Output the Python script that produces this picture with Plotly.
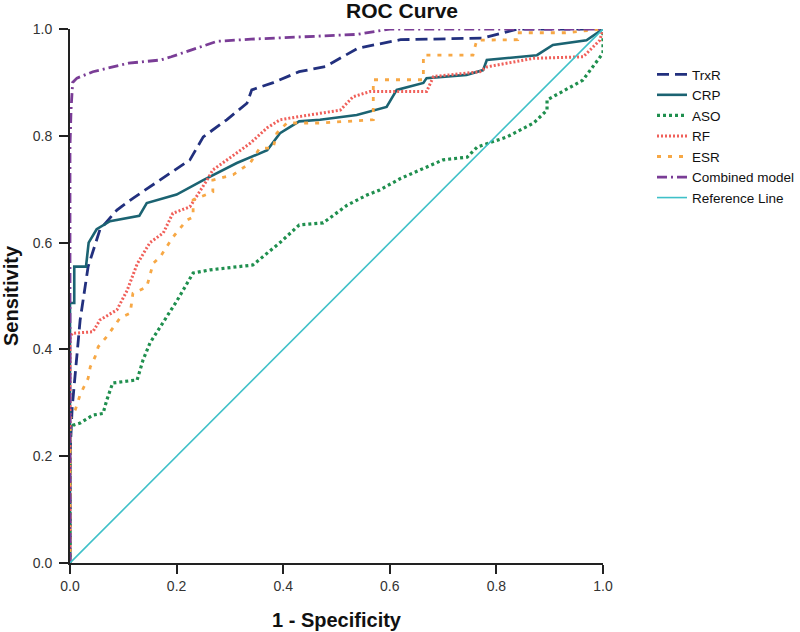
import plotly.graph_objects as go

# ---- data ----
trxr_x = [0, 0, 0.004, 0.019, 0.034, 0.056, 0.088, 0.118, 0.225, 0.25, 0.294, 0.332, 0.341, 0.38, 0.43, 0.48, 0.54, 0.62, 0.775, 0.84, 1.0]
trxr_y = [0, 0.2, 0.29, 0.455, 0.555, 0.624, 0.661, 0.683, 0.755, 0.798, 0.83, 0.861, 0.886, 0.899, 0.92, 0.93, 0.964, 0.98, 0.983, 1.0, 1.0]

crp_x = [0, 0, 0.003, 0.008, 0.008, 0.03, 0.035, 0.05, 0.075, 0.13, 0.144, 0.2, 0.25, 0.313, 0.37, 0.394, 0.43, 0.469, 0.538, 0.594, 0.613, 0.663, 0.669, 0.744, 0.775, 0.782, 0.876, 0.906, 0.969, 1.0]
crp_y = [0, 0.487, 0.487, 0.487, 0.555, 0.555, 0.6, 0.625, 0.64, 0.65, 0.674, 0.69, 0.717, 0.749, 0.773, 0.805, 0.827, 0.83, 0.839, 0.854, 0.886, 0.899, 0.908, 0.914, 0.923, 0.942, 0.951, 0.97, 0.979, 1.0]

aso_x = [0, 0, 0.006, 0.019, 0.043, 0.062, 0.069, 0.08, 0.126, 0.137, 0.15, 0.175, 0.2, 0.231, 0.263, 0.343, 0.37, 0.394, 0.43, 0.475, 0.52, 0.557, 0.58, 0.62, 0.7, 0.745, 0.764, 0.82, 0.87, 0.895, 0.895, 0.962, 1.0, 1.0]
aso_y = [0, 0.249, 0.258, 0.262, 0.277, 0.28, 0.305, 0.337, 0.343, 0.38, 0.412, 0.45, 0.49, 0.543, 0.549, 0.558, 0.58, 0.6, 0.633, 0.637, 0.67, 0.689, 0.698, 0.72, 0.755, 0.76, 0.779, 0.798, 0.824, 0.848, 0.867, 0.904, 0.955, 1.0]

rf_x = [0, 0, 0.004, 0.043, 0.056, 0.088, 0.107, 0.126, 0.15, 0.175, 0.193, 0.225, 0.257, 0.268, 0.32, 0.338, 0.37, 0.394, 0.43, 0.507, 0.531, 0.563, 0.669, 0.682, 0.769, 0.782, 0.869, 0.963, 0.994, 1.0]
rf_y = [0, 0.42, 0.43, 0.433, 0.455, 0.474, 0.51, 0.56, 0.6, 0.618, 0.655, 0.667, 0.717, 0.736, 0.773, 0.786, 0.815, 0.83, 0.836, 0.848, 0.873, 0.883, 0.883, 0.911, 0.92, 0.929, 0.945, 0.948, 0.979, 1.0]

esr_x = [0, 0, 0.01, 0.019, 0.034, 0.038, 0.047, 0.053, 0.069, 0.081, 0.094, 0.113, 0.118, 0.144, 0.156, 0.169, 0.193, 0.219, 0.231, 0.231, 0.268, 0.268, 0.306, 0.338, 0.356, 0.381, 0.388, 0.407, 0.469, 0.569, 0.569, 0.663, 0.663, 0.756, 0.763, 0.84, 0.84, 0.93, 1.0]
esr_y = [0, 0.27, 0.287, 0.315, 0.346, 0.367, 0.386, 0.405, 0.424, 0.44, 0.459, 0.468, 0.505, 0.517, 0.561, 0.573, 0.61, 0.642, 0.648, 0.68, 0.695, 0.717, 0.727, 0.749, 0.777, 0.777, 0.805, 0.824, 0.824, 0.83, 0.905, 0.905, 0.951, 0.951, 0.979, 0.98, 0.993, 0.993, 1.0]

comb_x = [0, 0, 0.002, 0.005, 0.013, 0.043, 0.11, 0.17, 0.19, 0.225, 0.257, 0.276, 0.34, 0.47, 0.54, 0.6, 1.0]
comb_y = [0, 0.78, 0.85, 0.90, 0.908, 0.92, 0.936, 0.942, 0.948, 0.96, 0.97, 0.977, 0.981, 0.987, 0.99, 1.0, 1.0]

ref_x = [0, 1]
ref_y = [0, 1]

tick_vals = [0.0, 0.2, 0.4, 0.6, 0.8, 1.0]
tick_text = ["0.0", "0.2", "0.4", "0.6", "0.8", "1.0"]

series = [
    ("TrxR", trxr_x, trxr_y, "#22307e", 2.8, "12px,6px"),
    ("CRP", crp_x, crp_y, "#1b6372", 2.6, "solid"),
    ("ASO", aso_x, aso_y, "#1f8f4e", 3.2, "3px,3px"),
    ("RF", rf_x, rf_y, "#f0605a", 3, "2px,2px"),
    ("ESR", esr_x, esr_y, "#f7a845", 2.8, "4px,7px"),
    ("Combined model", comb_x, comb_y, "#7a3d96", 2.8, "10px,4px,2px,4px"),
    ("Reference Line", ref_x, ref_y, "#3fc0c8", 1.6, "solid"),
]

FONT = "Liberation Sans, Arial"

fig = go.Figure()
for name, xs, ys, col, w, dash in series:
    fig.add_trace(go.Scatter(x=xs, y=ys, mode="lines", name=name,
                             line=dict(color=col, width=w, dash=dash),
                             cliponaxis=False))

axis_common = dict(
    range=[0, 1], showgrid=False, zeroline=False, showline=True,
    linecolor="#222222", linewidth=2, ticks="outside", ticklen=9,
    tickwidth=2, tickcolor="#222222", tickvals=tick_vals, ticktext=tick_text,
    tickfont=dict(family=FONT, size=14, color="#333333"),
    automargin=False,
)

fig.update_layout(
    width=800, height=632,
    margin=dict(l=70, r=197, t=29, b=69, autoexpand=False),
    paper_bgcolor="white", plot_bgcolor="white",
    title=dict(text="<b>ROC Curve</b>", x=402 / 800, xanchor="center",
               y=1 - 11 / 632, yanchor="middle", yref="container", pad=dict(t=0, b=0),
               automargin=False,
               font=dict(family=FONT, size=21, color="#111111")),
    xaxis=dict(axis_common,
               title=dict(text="<b>1 - Specificity</b>", standoff=20,
                          font=dict(family=FONT, size=20, color="#111111"))),
    yaxis=dict(axis_common, ticklabelstandoff=4,
               title=dict(text="<b>Sensitivity</b>", standoff=16,
                          font=dict(family=FONT, size=20, color="#111111"))),
    legend=dict(x=(652 - 70) / 533, y=(563 - 59) / 534, xanchor="left", yanchor="top",
                font=dict(family=FONT, size=13.5, color="#111111"),
                bgcolor="rgba(0,0,0,0)", tracegroupgap=0),
    showlegend=True,
)

fig.write_html("out.html", config={"displayModeBar": False},
               post_script="document.body.style.margin='0';")
